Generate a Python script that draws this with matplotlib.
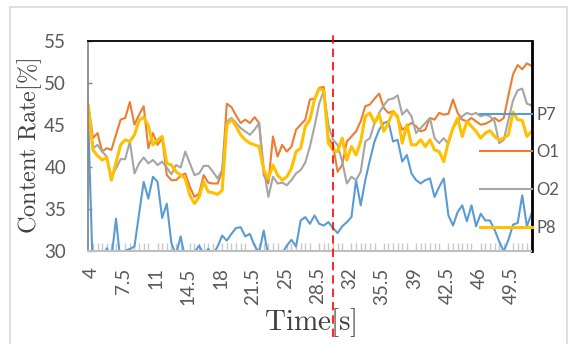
import numpy as np
import matplotlib
matplotlib.use('Agg')
import matplotlib.pyplot as plt
from matplotlib.patches import Rectangle
import matplotlib.transforms as mtransforms

# time axis, one sample every 0.5 s
t = np.arange(4, 52.25, 0.5)

p7 = [45.2, 27.0, 27.0, 28.5, 30.3, 29.0, 33.8, 28.5, 30.0, 30.2,
      30.5, 34.4, 38.2, 36.2, 38.8, 38.2, 33.9, 35.6, 30.9, 29.5,
      31.7, 29.0, 29.5, 29.8, 30.6, 29.6, 30.2, 29.5, 30.5, 31.8,
      31.2, 32.0, 32.7, 32.8, 31.7, 32.0, 30.6, 29.8, 32.4, 29.3,
      28.5, 29.5, 29.7, 30.6, 31.3, 30.5, 33.6, 34.0, 33.2, 34.2,
      33.2, 33.0, 33.4, 32.7, 32.1, 32.9, 33.4, 34.0, 38.4, 35.4,
      38.4, 40.8, 43.0, 44.4, 45.2, 45.4, 43.0, 43.2, 40.6, 41.4,
      39.2, 38.4, 38.0, 38.4, 38.6, 36.4, 37.6, 38.6, 34.2, 33.0,
      34.6, 35.4, 33.5, 35.4, 32.9, 34.4, 33.6, 33.6, 32.5, 31.1,
      29.9, 31.3, 33.1, 33.3, 36.6, 32.9, 34.4]

o1 = [47.3, 43.4, 44.0, 41.8, 42.2, 42.0, 43.8, 45.6, 45.8, 47.7,
      45.0, 46.2, 47.2, 42.2, 44.0, 42.6, 43.4, 39.0, 38.4, 38.4,
      38.9, 39.2, 37.6, 36.4, 36.8, 39.0, 38.1, 38.0, 38.0, 39.4,
      47.5, 47.1, 46.1, 45.2, 45.6, 45.2, 45.9, 45.2, 39.0, 38.0,
      43.6, 41.2, 42.6, 41.8, 42.4, 44.4, 45.0, 45.6, 48.0, 48.1,
      49.4, 49.5, 43.4, 42.6, 39.4, 40.2, 43.0, 43.6, 44.2, 45.4,
      47.2, 47.4, 48.1, 48.7, 47.0, 46.4, 46.6, 45.8, 44.4, 44.8,
      45.2, 44.8, 44.2, 44.4, 45.8, 45.6, 46.4, 46.2, 46.3, 48.0,
      46.4, 45.6, 45.4, 45.8, 45.4, 45.0, 45.1, 45.4, 45.8, 45.4,
      45.8, 48.5, 51.0, 52.1, 51.6, 52.3, 52.0]

o2 = [47.3, 42.2, 42.6, 41.8, 41.2, 38.8, 39.8, 40.9, 40.9, 43.0,
      39.2, 40.4, 41.1, 40.4, 40.8, 40.2, 40.6, 39.9, 39.1, 40.2,
      39.9, 41.8, 40.4, 39.0, 39.2, 40.1, 40.1, 39.4, 38.6, 39.6,
      45.4, 45.8, 45.2, 44.6, 44.2, 43.8, 44.4, 45.2, 39.8, 36.4,
      38.8, 38.0, 38.1, 37.8, 38.4, 39.2, 39.6, 40.5, 42.4, 44.8,
      47.5, 49.0, 45.0, 43.2, 42.6, 40.6, 38.0, 38.8, 38.4, 39.4,
      43.0, 43.4, 45.2, 46.4, 47.3, 48.0, 48.1, 48.5, 46.2, 46.8,
      46.0, 44.0, 44.6, 45.2, 45.8, 43.4, 42.8, 43.4, 42.7, 44.6,
      45.4, 46.0, 46.4, 46.2, 46.4, 46.0, 46.2, 46.0, 45.4, 42.8,
      43.2, 45.6, 47.9, 49.1, 49.3, 47.5, 47.3]

p8 = [47.3, 42.0, 41.3, 40.8, 41.1, 38.4, 40.5, 42.6, 43.2, 43.0,
      43.8, 45.5, 45.9, 44.9, 42.6, 43.2, 43.6, 40.4, 40.2, 39.4,
      39.0, 38.6, 36.6, 35.6, 36.4, 38.2, 37.0, 36.9, 36.7, 37.2,
      45.0, 45.6, 44.8, 43.8, 43.2, 42.8, 42.6, 42.4, 39.6, 38.6,
      40.2, 39.0, 38.4, 38.8, 39.8, 41.8, 42.2, 44.8, 45.6, 48.0,
      49.3, 49.1, 42.8, 42.0, 41.8, 43.4, 40.8, 42.4, 41.4, 43.0,
      46.0, 46.4, 45.2, 46.2, 44.2, 45.2, 46.6, 46.0, 42.8, 45.0,
      42.6, 42.6, 43.2, 42.4, 43.2, 42.0, 41.8, 40.6, 43.0, 44.6,
      45.8, 43.6, 45.4, 44.8, 44.2, 43.4, 44.0, 44.3, 43.6, 43.2,
      43.4, 43.8, 46.5, 45.6, 45.5, 43.6, 44.2]

xtick_vals = [4, 7.5, 11, 14.5, 18, 21.5, 25, 28.5, 32, 35.5, 39, 42.5, 46, 49.5]
xtick_labels = ['4', '7.5', '11', '14.5', '18', '21.5', '25', '28.5', '32',
                '35.5', '39', '42.5', '46', '49.5']
event_time = 30.45

plt.rcParams['font.family'] = ['Lato', 'DejaVu Sans']
plt.rcParams['mathtext.fontset'] = 'cm'

fig = plt.figure(figsize=(5.7, 3.44), dpi=100)
fig.patches.append(Rectangle((10/570, -0.1), 557/570, 1 - 7/344 + 0.1,
                             transform=fig.transFigure, fill=False,
                             edgecolor='#d9d9d9', linewidth=1.2))
ax = fig.add_axes([88.3/570, 1 - 250.7/344, 443.2/570, 210/344])

ax.plot(t, p7, color='#5B9BD5', lw=1.5, label='P7')
ax.plot(t, o1, color='#ED7D31', lw=1.5, label='O1')
ax.plot(t, o2, color='#A5A5A5', lw=1.5, label='O2')
ax.plot(t, p8, color='#FFC000', lw=2.2, label='P8')

ax.axvline(event_time, ymin=-0.41, ymax=1.027, color='red', lw=1.2,
           ls=(0, (5, 3)), clip_on=False, zorder=5)

ax.set_xlim(4, 52)
ax.set_ylim(30, 55)
ax.set_yticks([30, 35, 40, 45, 50, 55])
ax.set_xticks(xtick_vals)
ax.set_xticklabels(xtick_labels, rotation=90, va='top')
ax.set_xticks(t, minor=True)
ax.tick_params(axis='x', which='major', length=0, pad=12,
               labelsize=13.5, labelcolor='#595959')
ax.tick_params(axis='x', which='minor', direction='in', length=6,
               width=1, color='#c8c8c8')
ax.tick_params(axis='y', direction='in', length=3, width=1, color='#888888',
               pad=16, labelsize=13.5, labelcolor='#595959')
offset = mtransforms.ScaledTranslation(3/100, 0, fig.dpi_scale_trans)
for lab in ax.get_xticklabels():
    lab.set_transform(lab.get_transform() + offset)

for s in ['top', 'right']:
    ax.spines[s].set_color('black')
ax.spines['top'].set_linewidth(1.3)
ax.spines['right'].set_linewidth(2)
ax.spines['left'].set_color('#888888')
ax.spines['left'].set_linewidth(1.3)
ax.spines['bottom'].set_color('#bfbfbf')
ax.spines['bottom'].set_linewidth(1.5)

ax.set_xlabel(r'$\mathrm{Time[s]}$', fontsize=21, color='#404040', va='center')
ax.xaxis.set_label_coords(0.5, -0.34)
ax.set_ylabel(r'$\mathrm{Content\ Rate[\%]}$', fontsize=17.5, color='#404040',
              va='center')
ax.yaxis.set_label_coords(-0.1315, 0.5)

leg = ax.legend(loc='upper left', bbox_to_anchor=(480/570, 1 - 106.6/344),
                bbox_transform=fig.transFigure, frameon=False, fontsize=12,
                handlelength=3.1, handletextpad=0.3, labelspacing=1.3,
                borderpad=0, borderaxespad=0)
for txt in leg.get_texts():
    txt.set_color('#595959')

fig.savefig('out.png', dpi=100)
